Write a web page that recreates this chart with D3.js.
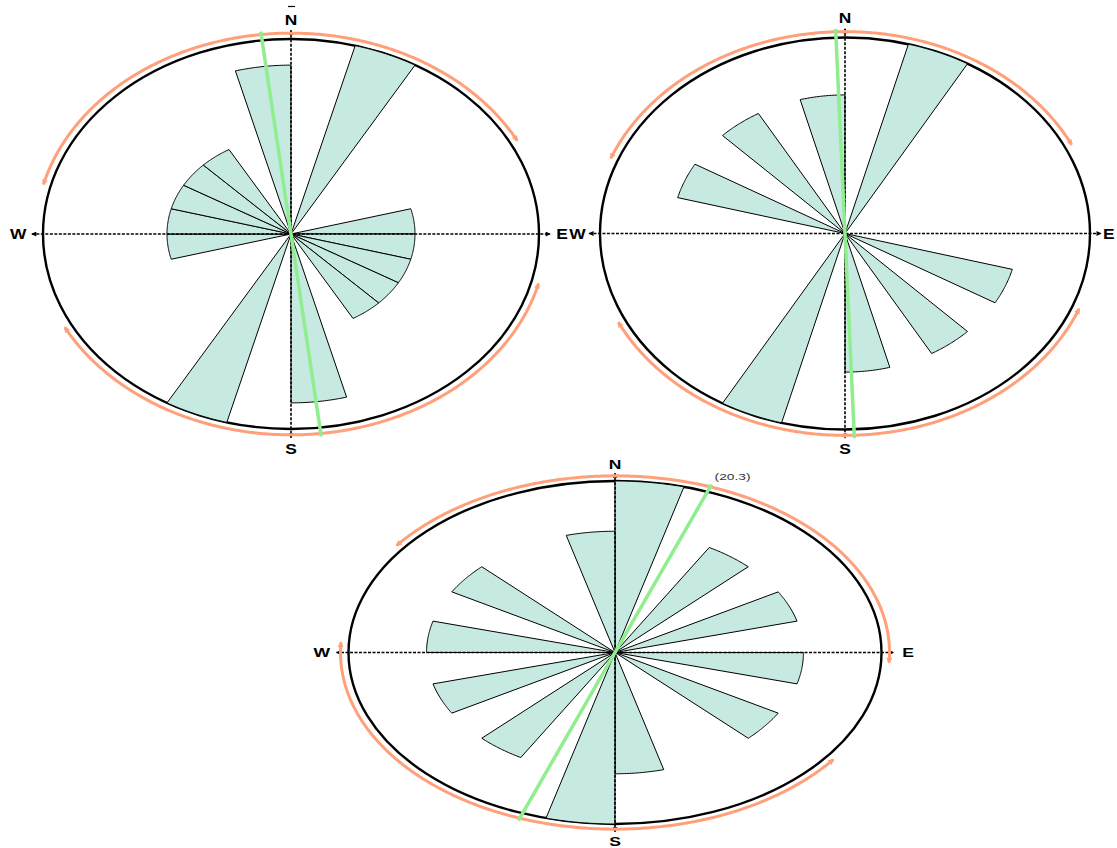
<!DOCTYPE html>
<html>
<head>
<meta charset="UTF-8" />
<title>rose diagrams</title>
<script src="https://d3js.org/d3.v7.min.js"></script>
<style>
  body{margin:0;background:#fff;}
  .petal{fill:#c6e9e2;stroke:#000;stroke-width:1;}
  .rim{fill:none;stroke:#000;stroke-width:2.4;}
  .axis{fill:none;stroke:#000;stroke-width:1.6;stroke-dasharray:3,1.5;}
  .mean{stroke:#90ee90;stroke-width:3.5;}
  .spread{fill:none;stroke:#ffa07a;stroke-width:3;}
  .dir{font-family:"Liberation Sans",Arial,sans-serif;font-weight:bold;fill:#000;}
  .val{font-family:"Liberation Sans",Arial,sans-serif;fill:#333;}
</style>
</head>
<body>
<script>
var width = 1117, height = 848;

// 15 degree bins, start angle clockwise from north
var binStarts = d3.range(0, 360, 15);
var counts1 = [0,4,0,0,0,1,1,1,1,1,0,3,0,4,0,0,0,1,1,1,1,1,0,3];
var counts2 = [0,2,0,0,0,0,0,1,0,1,0,1,0,2,0,0,0,0,0,1,0,1,0,1];
var counts3 = [2,0,1,0,1,0,1,0,1,0,0,1,2,0,1,0,1,0,1,0,1,0,0,1];

// mean direction and half spread (deg)
var means = [353.3, 357.9, 20.3];
var spreads = [69, 66, 73];
var meanLabels = ["", "", "(20.3)"];
var dirLabels = ["N", "E", "S", "W"];

// layout of the three panels
var panels = [
  {cx: 291, cy: 234, rx: 248, ry: 195, fs: 14.5, sx: 1.2, counts: counts1},
  {cx: 845, cy: 233.5, rx: 245, ry: 196, fs: 14.5, sx: 1.2, counts: counts2},
  {cx: 615, cy: 652.5, rx: 266.5, ry: 171.5, fs: 13, sx: 1.35, counts: counts3}
];

var svg = d3.select("body").append("svg").attr("width", width).attr("height", height);

var defs = svg.append("defs");
defs.append("marker").attr("id", "ax").attr("viewBox", "0 0 10 10")
  .attr("refX", 9).attr("refY", 5).attr("markerWidth", 6).attr("markerHeight", 5)
  .attr("markerUnits", "userSpaceOnUse").attr("orient", "auto-start-reverse")
  .append("path").attr("d", "M0,0L10,5L0,10Z").attr("fill", "#000");
defs.append("marker").attr("id", "arc").attr("viewBox", "0 0 10 10")
  .attr("refX", 8).attr("refY", 5).attr("markerWidth", 7).attr("markerHeight", 6)
  .attr("markerUnits", "userSpaceOnUse").attr("orient", "auto-start-reverse")
  .append("path").attr("d", "M0,0L10,5L0,10Z").attr("fill", "#ffa07a");

var rad = Math.PI / 180;
var line = d3.line();
var letters = [];

panels.forEach(function(p, k) {
  var g = svg.append("g");
  var x = d3.scaleLinear().domain([-1, 1]).range([p.cx - p.rx, p.cx + p.rx]);
  var y = d3.scaleLinear().domain([-1, 1]).range([p.cy + p.ry, p.cy - p.ry]);
  var r = d3.scaleSqrt().domain([0, d3.max(p.counts)]).range([0, 1]);
  function pt(a, rr) { return [x(rr * Math.sin(a * rad)), y(rr * Math.cos(a * rad))]; }
  function arcPts(a0, a1, rr) {
    var out = [];
    for (var a = a0; a <= a1 + 1e-6; a += 0.5) out.push(pt(a, rr));
    return out;
  }

  g.append("ellipse").attr("class", "rim")
    .attr("cx", x(0)).attr("cy", y(0)).attr("rx", x(1) - x(0)).attr("ry", y(-1) - y(0));

  // petals
  g.selectAll(".petal").data(binStarts.map(function(b, i) { return {a: b, n: p.counts[i]}; })
      .filter(function(d) { return d.n > 0; }))
    .enter().append("path").attr("class", "petal")
    .attr("d", function(d) {
      return line([pt(0, 0)].concat(arcPts(d.a, d.a + 15, r(d.n)))) + "Z";
    });

  // dashed axes
  g.append("path").attr("class", "axis")
    .attr("d", line([pt(270, 1.045), pt(90, 1.045)]))
    .attr("marker-start", "url(#ax)").attr("marker-end", "url(#ax)");
  g.append("path").attr("class", "axis")
    .attr("d", line([pt(0, 1.045), pt(180, 1.045)]))
    .attr("marker-start", "url(#ax)").attr("marker-end", "url(#ax)");

  // spread arcs
  [means[k], means[k] + 180].forEach(function(m) {
    g.append("path").attr("class", "spread")
      .attr("d", line(arcPts(m - spreads[k], m + spreads[k], 1.03)))
      .attr("marker-start", "url(#arc)").attr("marker-end", "url(#arc)");
  });

  // mean direction
  var e1 = pt(means[k], 1.045), e2 = pt(means[k] + 180, 1.045);
  g.append("line").attr("class", "mean")
    .attr("x1", e1[0]).attr("y1", e1[1]).attr("x2", e2[0]).attr("y2", e2[1]);
  if (meanLabels[k]) {
    g.append("text").attr("class", "val")
      .attr("transform", "translate(" + (e1[0] + 3) + "," + (e1[1] - 4) + ") scale(1.45,1)")
      .attr("font-size", 9.5).text(meanLabels[k]);
  }

  // compass letters
  dirLabels.forEach(function(t, i) {
    var c = pt(i * 90, 1.10);
    var half = p.fs * 0.36 * p.sx;
    var lx = Math.min(c[0], width - 2 - half);
    var txt = g.append("text").attr("class", "dir")
      .attr("transform", "translate(" + lx + "," + c[1] + ") scale(" + p.sx + ",1)")
      .attr("text-anchor", "middle").attr("dy", "0.36em")
      .attr("font-size", p.fs).text(t);
    letters.push({node: txt, x: lx, y: c[1], sx: p.sx, panel: k, t: t});
  });
});

// the E of the first rose and the W of the second sit side by side: keep them apart
var eL = letters.filter(function(d) { return d.panel === 0 && d.t === "E"; })[0];
var wR = letters.filter(function(d) { return d.panel === 1 && d.t === "W"; })[0];
var b1 = eL.node.node().getBoundingClientRect(), b2 = wR.node.node().getBoundingClientRect();
var ov = b1.right - b2.left;
if (ov > -0.5) {
  var s = ov / 2 + 0.5;
  eL.node.attr("transform", "translate(" + (eL.x - s) + "," + eL.y + ") scale(" + eL.sx + ",1)");
  wR.node.attr("transform", "translate(" + (wR.x + s) + "," + wR.y + ") scale(" + wR.sx + ",1)");
}

// small bar above the first N
svg.append("line").attr("x1", 288).attr("x2", 295).attr("y1", 6.5).attr("y2", 6.5)
  .attr("stroke", "#000").attr("stroke-width", 1.2);
</script>
</body>
</html>
